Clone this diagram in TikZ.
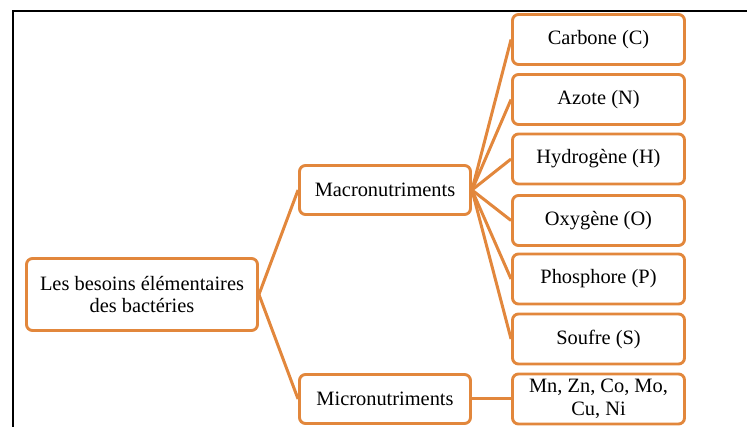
\documentclass[tikz,border=0pt]{standalone}
\usepackage{fontspec}
\setmainfont{Liberation Serif}
\definecolor{accent}{RGB}{226,135,60}
\begin{document}
\begin{tikzpicture}[x=1pt,y=-1pt,
  box/.style={draw=accent, line width=2.9pt, rounded corners=6pt, fill=white,
    inner sep=0pt, align=center, font=\fontsize{20.4}{22.5}\selectfont},
  leaf/.style={box, minimum width=172pt, minimum height=50pt},
  mid/.style={box, minimum width=171pt, minimum height=49pt},
  link/.style={draw=accent, line width=3pt}]
  \useasboundingbox (0,0) rectangle (747,427);
  % page frame
  \draw[line width=2pt] (13,427) -- (13,11) -- (747,11);

  % root
  \node[box, minimum width=231pt, minimum height=72pt] (root) at (142,294.5)
    {Les besoins élémentaires\\des bactéries};

  % second level
  \node[mid] (macro) at (385,190) {Macronutriments};
  \node[mid] (micro) at (385,399) {Micronutriments};

  % leaves
  \node[leaf] (c) at (598.5,39.5) {Carbone (C)};
  \node[leaf] (n) at (598.5,99.5) {Azote (N)};
  \node[leaf] (h) at (598.5,159) {Hydrogène (H)};
  \node[leaf] (o) at (598.5,220.5) {Oxygène (O)};
  \node[leaf] (p) at (598.5,279) {Phosphore (P)};
  \node[leaf] (s) at (598.5,339) {Soufre (S)};
  \node[leaf] (mn) at (598.5,399) {Mn, Zn, Co, Mo,\\Cu, Ni};

  % connectors
  \path[link] (root.east) -- (macro.west);
  \path[link] (root.east) -- (micro.west);
  \foreach \t in {c,n,h,o,p,s}
    \path[link] (macro.east) -- (\t.west);
  \path[link] (micro.east) -- (mn.west);
\end{tikzpicture}
\end{document}
